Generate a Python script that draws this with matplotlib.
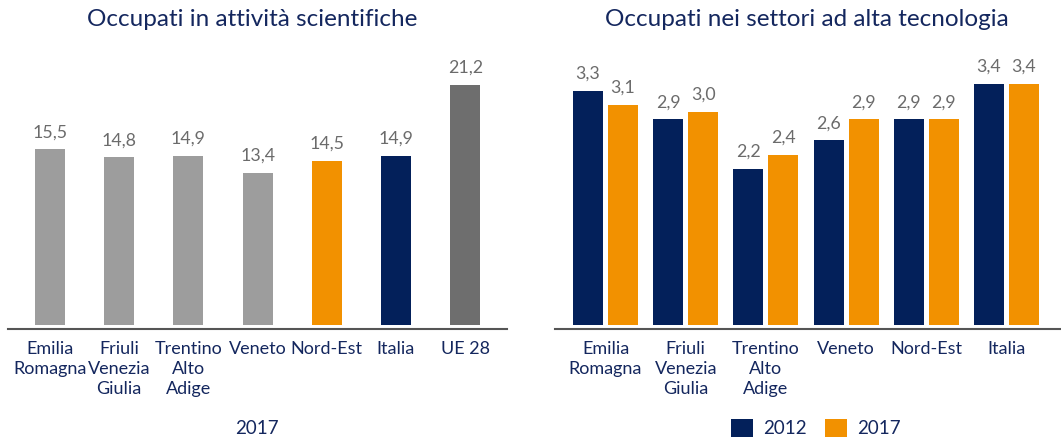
import matplotlib
matplotlib.use("Agg")
import matplotlib.pyplot as plt
import numpy as np

plt.rcParams['font.family'] = ['Lato', 'DejaVu Sans']

# ---- data ----
left_title = "Occupati in attività scientifiche"
left_categories = ["Emilia\nRomagna", "Friuli\nVenezia\nGiulia", "Trentino\nAlto\nAdige",
                   "Veneto", "Nord-Est", "Italia", "UE 28"]
left_values = [15.5, 14.8, 14.9, 13.4, 14.5, 14.9, 21.2]
left_note = "2017"

right_title = "Occupati nei settori ad alta tecnologia"
right_categories = ["Emilia\nRomagna", "Friuli\nVenezia\nGiulia", "Trentino\nAlto\nAdige",
                    "Veneto", "Nord-Est", "Italia"]
series_names = ["2012", "2017"]
values_2012 = [3.3, 2.9, 2.2, 2.6, 2.9, 3.4]
values_2017 = [3.1, 3.0, 2.4, 2.9, 2.9, 3.4]

# ---- styles ----
NAVY = "#03205A"
ORANGE = "#F29100"
LGRAY = "#9D9D9D"
DGRAY = "#6E6E6E"
LABEL_GRAY = "#6B6B6B"
TEXT_NAVY = "#14275E"
AXIS = "#555555"

W, H = 1061, 441
fig = plt.figure(figsize=(W / 100, H / 100), dpi=100)

def px_axes(x0, x1, y_top, y_bot):
    return fig.add_axes([x0 / W, 1 - y_bot / H, (x1 - x0) / W, (y_bot - y_top) / H])

def fmt(v):
    return f"{v:.1f}".replace(".", ",")

# ---------- left chart ----------
base_px = 324.5
axis_px = 329
top_px = 60
ppu_l = 11.3
axL = px_axes(8, 507, top_px, axis_px)
step_l = 69.2
axL.set_xlim(-42 / step_l, 457 / step_l)
axL.set_ylim(-(axis_px - base_px) / ppu_l, (base_px - top_px) / ppu_l)
colorsL = [LGRAY, LGRAY, LGRAY, LGRAY, ORANGE, NAVY, DGRAY]
xl = np.arange(len(left_values))
barsL = axL.bar(xl, left_values, width=30 / step_l, color=colorsL, zorder=2)
for b, v in zip(barsL, left_values):
    axL.annotate(fmt(v), (b.get_x() + b.get_width() / 2, v), xytext=(0, 6.5),
                 textcoords="offset points", ha="center", va="bottom",
                 fontsize=12.8, color=LABEL_GRAY, clip_on=False)

# ---------- right chart ----------
ppu_r = 70.8
axR = px_axes(555, 1061, top_px, axis_px)
step_r = 80.2
axR.set_xlim(-50.5 / step_r, 455.5 / step_r)
axR.set_ylim(-(axis_px - base_px) / ppu_r, (base_px - top_px) / ppu_r)
xr = np.arange(len(right_categories))
bw = 30 / step_r
off = 17.5 / step_r
b1 = axR.bar(xr - off, values_2012, width=bw, color=NAVY, zorder=2, label=series_names[0])
b2 = axR.bar(xr + off, values_2017, width=bw, color=ORANGE, zorder=2, label=series_names[1])
for bars, vals in ((b1, values_2012), (b2, values_2017)):
    for b, v in zip(bars, vals):
        axR.annotate(fmt(v), (b.get_x() + b.get_width() / 2, v), xytext=(0, 6.5),
                     textcoords="offset points", ha="center", va="bottom",
                     fontsize=12.8, color=LABEL_GRAY, clip_on=False)

for ax, cats, xs in ((axL, left_categories, xl), (axR, right_categories, xr)):
    for s in ("top", "right", "left"):
        ax.spines[s].set_visible(False)
    ax.spines["bottom"].set_color(AXIS)
    ax.spines["bottom"].set_linewidth(1.5)
    ax.set_yticks([])
    ax.set_xticks(xs)
    ax.set_xticklabels(cats, fontsize=13, color=TEXT_NAVY, linespacing=1.3, va="top")
    ax.tick_params(axis="x", length=0, pad=9)
    ax.patch.set_alpha(0)

# titles
fig.text(252 / W, 1 - 20 / H, left_title, ha="center", va="center", fontsize=17.5, color=TEXT_NAVY)
fig.text(807 / W, 1 - 20 / H, right_title, ha="center", va="center", fontsize=17.5, color=TEXT_NAVY)

# bottom note
fig.text(257 / W, 1 - 428 / H, left_note, ha="center", va="center", fontsize=13.5, color=TEXT_NAVY)

# legend
leg = axR.legend(handles=[b1, b2], labels=series_names, loc="center",
                 bbox_to_anchor=((816 - 555) / (1061 - 555), -(428 - axis_px) / (axis_px - top_px)),
                 ncol=2, frameon=False, fontsize=13.5, handlelength=1.15, handleheight=1.15,
                 handletextpad=0.55, columnspacing=1.0, labelcolor=TEXT_NAVY,
                 borderpad=0, borderaxespad=0)

fig.savefig("out.png", dpi=100)
